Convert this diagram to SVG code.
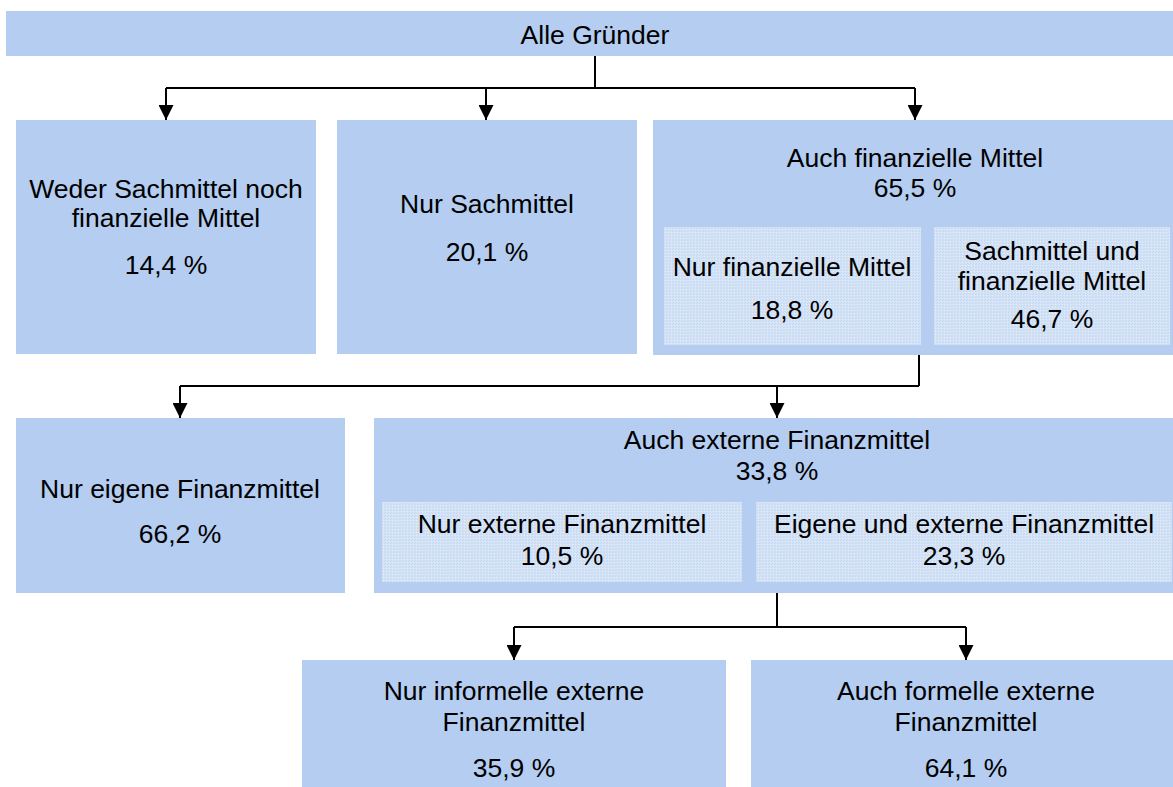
<svg xmlns="http://www.w3.org/2000/svg" width="1173" height="787" viewBox="0 0 1173 787">
<style>
.box{fill:#b4cdf1}
.inner{fill:url(#dots)}
.t{font-family:"Liberation Sans",Arial,sans-serif;font-size:26.5px;fill:#000;text-anchor:middle}
.c{fill:none;stroke:#000;stroke-width:2}
</style>
<defs>
<pattern id="dots" width="3" height="3" patternUnits="userSpaceOnUse">
<rect width="3" height="3" fill="#d4e2f6"/>
<rect x="0" y="0" width="1" height="1" fill="#c4d7f2"/>
<rect x="2" y="1" width="1" height="1" fill="#e2ebf9"/>
<rect x="1" y="2" width="1" height="1" fill="#c8daf3"/>
</pattern>
<marker id="ah" viewBox="0 0 15 15" refX="15" refY="7.5" markerWidth="15" markerHeight="15" markerUnits="userSpaceOnUse" orient="auto">
<path d="M0,0 L15,7.5 L0,15 z" fill="#000"/>
</marker>
</defs>
<rect width="1173" height="787" fill="#fff"/>

<g id="connectors">
<path class="c" d="M595,56 V88 M166,88 H915"/>
<line class="c" x1="166" y1="88" x2="166" y2="120" marker-end="url(#ah)"/>
<line class="c" x1="486" y1="88" x2="486" y2="120" marker-end="url(#ah)"/>
<line class="c" x1="915" y1="88" x2="915" y2="120" marker-end="url(#ah)"/>
<path class="c" d="M919,355 V386 M180,386 H919"/>
<line class="c" x1="180" y1="386" x2="180" y2="418" marker-end="url(#ah)"/>
<line class="c" x1="777" y1="386" x2="777" y2="418" marker-end="url(#ah)"/>
<path class="c" d="M777,593 V627 M514,627 H966"/>
<line class="c" x1="514" y1="627" x2="514" y2="660" marker-end="url(#ah)"/>
<line class="c" x1="966" y1="627" x2="966" y2="660" marker-end="url(#ah)"/>
</g>

<g id="alle">
<rect class="box" x="6" y="11" width="1167" height="45"/>
<text class="t" x="595" y="44">Alle Gründer</text>
</g>

<g id="weder">
<rect class="box" x="16" y="120" width="300" height="234"/>
<text class="t" x="166" y="198">Weder Sachmittel noch</text>
<text class="t" x="166" y="227">finanzielle Mittel</text>
<text class="t" x="166" y="274">14,4 %</text>
</g>

<g id="nursach">
<rect class="box" x="337" y="120" width="300" height="234"/>
<text class="t" x="487" y="213">Nur Sachmittel</text>
<text class="t" x="487" y="261">20,1 %</text>
</g>

<g id="auchfin">
<rect class="box" x="653" y="120" width="520" height="235"/>
<text class="t" x="915" y="167">Auch finanzielle Mittel</text>
<text class="t" x="915" y="197">65,5 %</text>
</g>

<g id="nurfin">
<rect class="inner" x="664" y="227" width="257" height="118"/>
<text class="t" x="792" y="276">Nur finanzielle Mittel</text>
<text class="t" x="792" y="319">18,8 %</text>
</g>

<g id="sachfin">
<rect class="inner" x="934" y="227" width="236" height="118"/>
<text class="t" x="1052" y="260">Sachmittel und</text>
<text class="t" x="1052" y="290">finanzielle Mittel</text>
<text class="t" x="1052" y="328">46,7 %</text>
</g>

<g id="nureigene">
<rect class="box" x="16" y="418" width="329" height="175"/>
<text class="t" x="180" y="498">Nur eigene Finanzmittel</text>
<text class="t" x="180" y="543">66,2 %</text>
</g>

<g id="auchext">
<rect class="box" x="374" y="418" width="799" height="175"/>
<text class="t" x="777" y="449">Auch externe Finanzmittel</text>
<text class="t" x="777" y="480">33,8 %</text>
</g>

<g id="nurext">
<rect class="inner" x="382" y="502" width="360" height="80"/>
<text class="t" x="562" y="533">Nur externe Finanzmittel</text>
<text class="t" x="562" y="565">10,5 %</text>
</g>

<g id="eigext">
<rect class="inner" x="756" y="502" width="416" height="80"/>
<text class="t" x="964" y="533">Eigene und externe Finanzmittel</text>
<text class="t" x="964" y="565">23,3 %</text>
</g>

<g id="informell">
<rect class="box" x="302" y="660" width="424" height="127"/>
<text class="t" x="514" y="700">Nur informelle externe</text>
<text class="t" x="514" y="731">Finanzmittel</text>
<text class="t" x="514" y="777">35,9 %</text>
</g>

<g id="formell">
<rect class="box" x="751" y="660" width="422" height="127"/>
<text class="t" x="966" y="700">Auch formelle externe</text>
<text class="t" x="966" y="731">Finanzmittel</text>
<text class="t" x="966" y="777">64,1 %</text>
</g>
</svg>
